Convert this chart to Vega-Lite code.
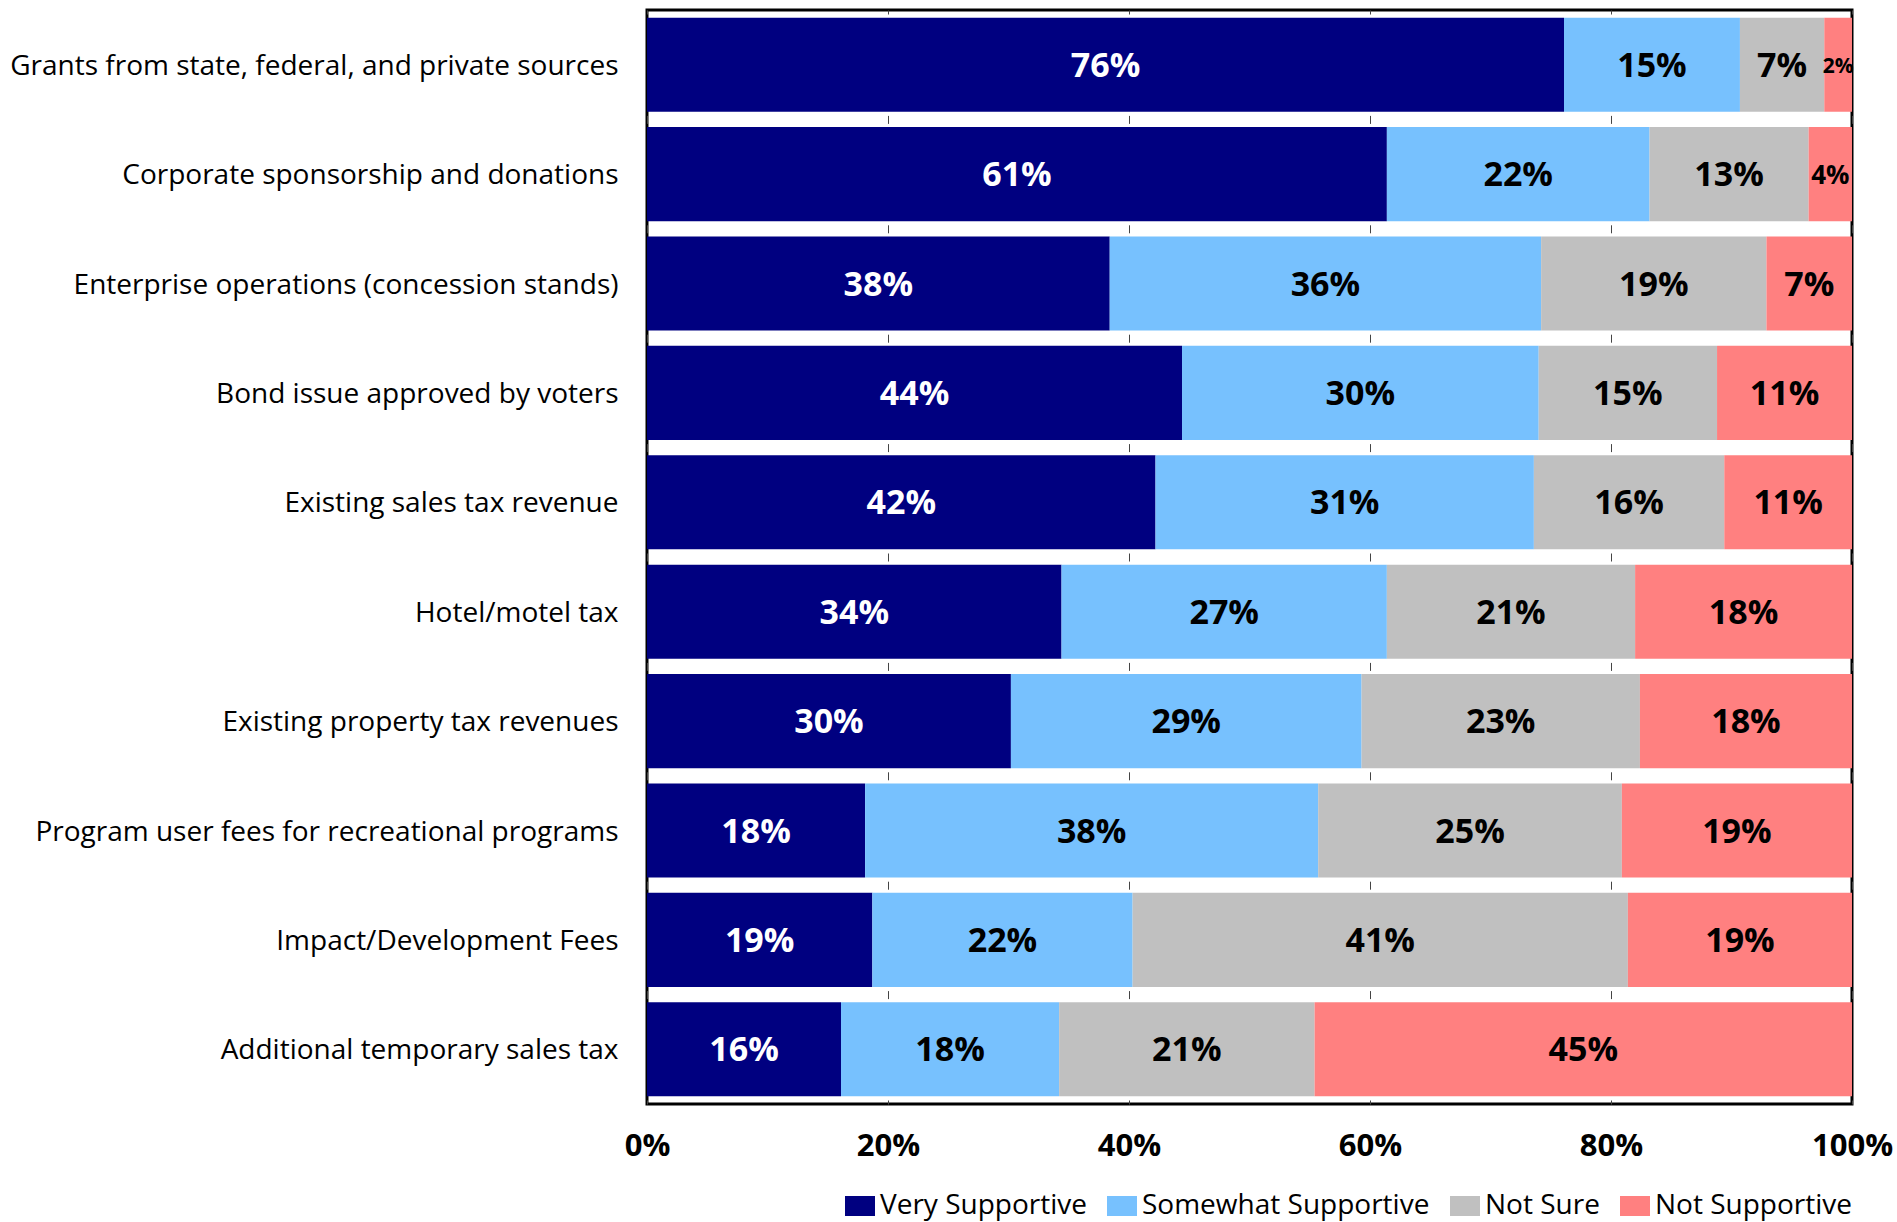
{
  "$schema": "https://vega.github.io/schema/vega-lite/v6.json",
  "width": 1205,
  "height": 1094,
  "autosize": {"type": "none"},
  "padding": {"left": 647, "top": 10, "right": 45, "bottom": 118},
  "background": "white",
  "config": {
    "view": {"stroke": "black", "strokeWidth": 3},
    "font": "Open Sans"
  },
  "data": {
    "values": [
      {"source": "Grants from state, federal, and private sources", "response": "Very Supportive", "rank": 1, "value": 0.761},
      {"source": "Grants from state, federal, and private sources", "response": "Somewhat Supportive", "rank": 2, "value": 0.146},
      {"source": "Grants from state, federal, and private sources", "response": "Not Sure", "rank": 3, "value": 0.070},
      {"source": "Grants from state, federal, and private sources", "response": "Not Supportive", "rank": 4, "value": 0.023},
      {"source": "Corporate sponsorship and donations", "response": "Very Supportive", "rank": 1, "value": 0.614},
      {"source": "Corporate sponsorship and donations", "response": "Somewhat Supportive", "rank": 2, "value": 0.218},
      {"source": "Corporate sponsorship and donations", "response": "Not Sure", "rank": 3, "value": 0.132},
      {"source": "Corporate sponsorship and donations", "response": "Not Supportive", "rank": 4, "value": 0.036},
      {"source": "Enterprise operations (concession stands)", "response": "Very Supportive", "rank": 1, "value": 0.384},
      {"source": "Enterprise operations (concession stands)", "response": "Somewhat Supportive", "rank": 2, "value": 0.358},
      {"source": "Enterprise operations (concession stands)", "response": "Not Sure", "rank": 3, "value": 0.187},
      {"source": "Enterprise operations (concession stands)", "response": "Not Supportive", "rank": 4, "value": 0.071},
      {"source": "Bond issue approved by voters", "response": "Very Supportive", "rank": 1, "value": 0.444},
      {"source": "Bond issue approved by voters", "response": "Somewhat Supportive", "rank": 2, "value": 0.296},
      {"source": "Bond issue approved by voters", "response": "Not Sure", "rank": 3, "value": 0.148},
      {"source": "Bond issue approved by voters", "response": "Not Supportive", "rank": 4, "value": 0.112},
      {"source": "Existing sales tax revenue", "response": "Very Supportive", "rank": 1, "value": 0.422},
      {"source": "Existing sales tax revenue", "response": "Somewhat Supportive", "rank": 2, "value": 0.314},
      {"source": "Existing sales tax revenue", "response": "Not Sure", "rank": 3, "value": 0.158},
      {"source": "Existing sales tax revenue", "response": "Not Supportive", "rank": 4, "value": 0.106},
      {"source": "Hotel/motel tax", "response": "Very Supportive", "rank": 1, "value": 0.344},
      {"source": "Hotel/motel tax", "response": "Somewhat Supportive", "rank": 2, "value": 0.270},
      {"source": "Hotel/motel tax", "response": "Not Sure", "rank": 3, "value": 0.206},
      {"source": "Hotel/motel tax", "response": "Not Supportive", "rank": 4, "value": 0.180},
      {"source": "Existing property tax revenues", "response": "Very Supportive", "rank": 1, "value": 0.302},
      {"source": "Existing property tax revenues", "response": "Somewhat Supportive", "rank": 2, "value": 0.291},
      {"source": "Existing property tax revenues", "response": "Not Sure", "rank": 3, "value": 0.231},
      {"source": "Existing property tax revenues", "response": "Not Supportive", "rank": 4, "value": 0.176},
      {"source": "Program user fees for recreational programs", "response": "Very Supportive", "rank": 1, "value": 0.181},
      {"source": "Program user fees for recreational programs", "response": "Somewhat Supportive", "rank": 2, "value": 0.376},
      {"source": "Program user fees for recreational programs", "response": "Not Sure", "rank": 3, "value": 0.252},
      {"source": "Program user fees for recreational programs", "response": "Not Supportive", "rank": 4, "value": 0.191},
      {"source": "Impact/Development Fees", "response": "Very Supportive", "rank": 1, "value": 0.187},
      {"source": "Impact/Development Fees", "response": "Somewhat Supportive", "rank": 2, "value": 0.216},
      {"source": "Impact/Development Fees", "response": "Not Sure", "rank": 3, "value": 0.411},
      {"source": "Impact/Development Fees", "response": "Not Supportive", "rank": 4, "value": 0.186},
      {"source": "Additional temporary sales tax", "response": "Very Supportive", "rank": 1, "value": 0.161},
      {"source": "Additional temporary sales tax", "response": "Somewhat Supportive", "rank": 2, "value": 0.181},
      {"source": "Additional temporary sales tax", "response": "Not Sure", "rank": 3, "value": 0.212},
      {"source": "Additional temporary sales tax", "response": "Not Supportive", "rank": 4, "value": 0.446}
    ]
  },
  "encoding": {
    "y": {
      "field": "source",
      "type": "nominal",
      "sort": null,
      "scale": {"paddingInner": 0.14, "paddingOuter": 0.07},
      "axis": {
        "title": null,
        "ticks": false,
        "domain": false,
        "grid": false,
        "labelFontSize": 28,
        "labelColor": "black",
        "labelPadding": 29,
        "labelOffset": 2,
        "labelLimit": 800
      }
    },
    "order": {"field": "rank", "type": "quantitative"}
  },
  "layer": [
    {
      "mark": {"type": "bar"},
      "encoding": {
        "x": {
          "field": "value",
          "type": "quantitative",
          "stack": "zero",
          "scale": {"domain": [0, 1], "nice": false},
          "axis": {
            "title": null,
            "format": ".0%",
            "values": [0, 0.2, 0.4, 0.6, 0.8, 1],
            "ticks": false,
            "domain": false,
            "grid": true,
            "gridColor": "#444444",
            "gridWidth": 1,
            "gridDash": [8, 101.4],
            "gridDashOffset": 4,
            "labelFontSize": 31,
            "labelFontWeight": "bold",
            "labelColor": "black",
            "labelPadding": 27,
            "labelFlush": false
          }
        },
        "color": {
          "field": "response",
          "type": "nominal",
          "scale": {
            "domain": ["Very Supportive", "Somewhat Supportive", "Not Sure", "Not Supportive"],
            "range": ["#000080", "#77C1FE", "#C0C0C0", "#FF8080"]
          },
          "legend": {
            "title": null,
            "orient": "none",
            "legendX": 199,
            "legendY": 1182,
            "direction": "horizontal",
            "symbolType": "M-1.5,-1H1.5V1H-1.5Z",
            "symbolSize": 400,
            "symbolStrokeWidth": 0,
            "labelFontSize": 28,
            "labelColor": "black",
            "labelOffset": 6,
            "labelLimit": 400,
            "columnPadding": 20
          }
        }
      }
    },
    {
      "mark": {"type": "text", "fontWeight": "bold", "baseline": "middle", "align": "center", "dy": 2},
      "encoding": {
        "x": {"field": "value", "type": "quantitative", "stack": "zero", "bandPosition": 0.5},
        "detail": {"field": "response"},
        "text": {"field": "value", "type": "quantitative", "format": ".0%"},
        "size": {"condition": [{"test": "datum.value < 0.03", "value": 21}, {"test": "datum.value < 0.05", "value": 26}], "value": 34},
        "color": {"condition": {"test": "datum.response === 'Very Supportive'", "value": "white"}, "value": "black"}
      }
    }
  ]
}
